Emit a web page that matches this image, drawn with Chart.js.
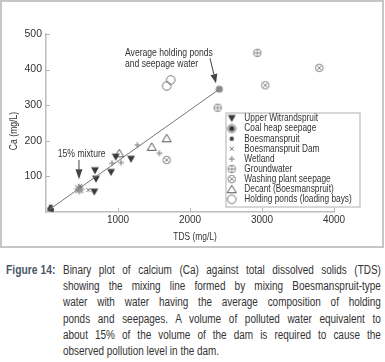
<!DOCTYPE html>
<html><head><meta charset="utf-8">
<script src="https://cdn.jsdelivr.net/npm/chart.js@4/dist/chart.umd.min.js"></script>
<style>
html,body{margin:0;padding:0;background:#fff;width:385px;height:362px;overflow:hidden}
#wrap{position:absolute;left:0;top:0;width:385px;height:250px}
#cap{position:absolute;left:0;top:262px;width:385px;font-family:'Liberation Sans',Arial,sans-serif;font-size:12px;line-height:16.2px;color:#333}
#cap .lab{position:absolute;left:6px;top:0;font-weight:bold;color:#4a5868;transform:scaleX(0.86);transform-origin:0 0;white-space:nowrap}
#cap .txt{position:absolute;left:63px;top:0;width:383px;transform:scaleX(0.83);transform-origin:0 0}
#cap .txt div{white-space:nowrap;text-align:justify;text-align-last:justify}
#cap .txt div.last{text-align:left;text-align-last:left}
</style></head>
<body>
<div id="wrap"><canvas id="c" width="385" height="250"></canvas></div>
<div id="cap"><span class="lab">Figure 14:</span><div class="txt">
<div>Binary plot of calcium (Ca) against total dissolved solids (TDS)</div>
<div>showing the mixing line formed by mixing Boesmanspruit-type</div>
<div>water with water having the average composition of holding</div>
<div>ponds and seepages. A volume of polluted water equivalent to</div>
<div>about 15% of the volume of the dam is required to cause the</div>
<div class="last">observed pollution level in the dam.</div>
</div></div>
<script>
const FONT = "'Liberation Sans', Arial, sans-serif";

// ---- data ----
const xTicks = [1000, 2000, 3000, 4000];
const yTicks = [100, 200, 300, 400, 500];
const seriesNames = ['Upper Witrandspruit','Coal heap seepage','Boesmanspruit','Boesmanspruit Dam','Wetland','Groundwater','Washing plant seepage','Decant (Boesmanspruit)','Holding ponds (loading bays)'];

const upperWitTDS = [680, 694, 671, 903, 968, 1181];
const upperWitCa  = [116, 92, 56, 111, 154, 148];
const coalTDS = [3227];
const coalCa  = [553];
const boesTDS = [65, 46, 83];
const boesCa  = [15, 8, 6];
const damTDS = [472, 588];
const damCa  = [73, 62];
const wetTDS = [917, 1042, 1268, 1574];
const wetCa  = [137, 139, 188, 165];
const groundTDS = [2935, 2384];
const groundCa  = [447, 293];
const washTDS = [3796, 3046, 1676];
const washCa  = [405, 356, 146];
const decantTDS = [1018, 1468, 1676];
const decantCa  = [165, 183, 207];
const holdTDS = [1676, 1732];
const holdCa  = [354, 371];
const avgTDS = [2407];
const avgCa  = [345];
const mixTDS = [463];
const mixCa  = [64];
const lineTDS = [55, 2407];
const lineCa  = [8, 345];
const annoAvgText = ['Average holding ponds', 'and seepage water'];
const annoMixText = '15% mixture';

// ---- symbols ----
function sym(size, draw){const c=document.createElement('canvas');c.width=size;c.height=size;const g=c.getContext('2d');g.translate(size/2,size/2);draw(g);return c;}
function circ(g,r){g.beginPath();g.arc(0,0,r,0,Math.PI*2);}
const S = {
  downTri: sym(10,g=>{g.fillStyle='#3a3a3a';g.beginPath();g.moveTo(-4,-3.5);g.lineTo(4,-3.5);g.lineTo(0,3.5);g.closePath();g.fill();}),
  coal: sym(12,g=>{g.fillStyle='#c4c4c4';circ(g,4.3);g.fill();g.strokeStyle='#888';g.lineWidth=0.8;g.stroke();g.fillStyle='#333';circ(g,2.5);g.fill();}),
  dot: sym(8,g=>{g.fillStyle='#444';circ(g,2.2);g.fill();}),
  xs: sym(8,g=>{g.strokeStyle='#777';g.lineWidth=1;g.beginPath();g.moveTo(-2,-2);g.lineTo(2,2);g.moveTo(2,-2);g.lineTo(-2,2);g.stroke();}),
  plus: sym(10,g=>{g.strokeStyle='#777';g.lineWidth=1;g.beginPath();g.moveTo(-3,0);g.lineTo(3,0);g.moveTo(0,-3);g.lineTo(0,3);g.stroke();}),
  ground: sym(12,g=>{g.strokeStyle='#888';g.lineWidth=1;circ(g,3.8);g.stroke();g.beginPath();g.moveTo(-3.8,0);g.lineTo(3.8,0);g.moveTo(0,-3.8);g.lineTo(0,3.8);g.stroke();}),
  wash: sym(12,g=>{g.strokeStyle='#888';g.lineWidth=1;circ(g,3.8);g.stroke();g.beginPath();g.moveTo(-2.7,-2.7);g.lineTo(2.7,2.7);g.moveTo(2.7,-2.7);g.lineTo(-2.7,2.7);g.stroke();}),
  upTri: sym(12,g=>{g.strokeStyle='#555';g.lineWidth=1;g.beginPath();g.moveTo(0,-4);g.lineTo(4.5,3.5);g.lineTo(-4.5,3.5);g.closePath();g.stroke();}),
  ring: sym(12,g=>{g.strokeStyle='#777';g.lineWidth=1;circ(g,4.3);g.stroke();}),
  avg: sym(10,g=>{g.fillStyle='#8a8a8a';circ(g,3.6);g.fill();}),
  mix: sym(14,g=>{g.fillStyle='#9a9a9a';circ(g,3.8);g.fill();g.strokeStyle='#9a9a9a';g.lineWidth=1.2;g.beginPath();for(let i=0;i<4;i++){const a=i*Math.PI/4;g.moveTo(-5.5*Math.cos(a),-5.5*Math.sin(a));g.lineTo(5.5*Math.cos(a),5.5*Math.sin(a));}g.stroke();})
};

function pts(xs, ys){return xs.map((x,i)=>({x, y: ys[i]}));}
function sc(label, xs, ys, style, inLegend){
  return {type:'scatter', label, data: pts(xs,ys), pointStyle: style, pointRadius: 5, pointHoverRadius: 5, clip: false, legendShow: inLegend};
}

const datasets = [
  {type:'line', label:'Mixing line', data: pts(lineTDS, lineCa), borderColor:'#777', borderWidth:1, pointRadius:0, fill:false, clip:false, legendShow:false},
  sc(seriesNames[0], upperWitTDS, upperWitCa, S.downTri, true),
  sc(seriesNames[1], coalTDS, coalCa, S.coal, true),
  sc(seriesNames[2], boesTDS, boesCa, S.dot, true),
  sc(seriesNames[3], damTDS, damCa, S.xs, true),
  sc(seriesNames[4], wetTDS, wetCa, S.plus, true),
  sc(seriesNames[5], groundTDS, groundCa, S.ground, true),
  sc(seriesNames[6], washTDS, washCa, S.wash, true),
  sc(seriesNames[7], decantTDS, decantCa, S.upTri, true),
  sc(seriesNames[8], holdTDS, holdCa, S.ring, true),
  sc('Average holding ponds and seepage water', avgTDS, avgCa, S.avg, false),
  sc('15% mixture', mixTDS, mixCa, S.mix, false)
];

function arrow(ctx, x1, y1, x2, y2, hl, hw){
  const a = Math.atan2(y2-y1, x2-x1);
  const bx = x2 - hl*Math.cos(a), by = y2 - hl*Math.sin(a);
  ctx.beginPath(); ctx.moveTo(x1,y1); ctx.lineTo(bx,by); ctx.stroke();
  ctx.beginPath(); ctx.moveTo(x2,y2);
  ctx.lineTo(bx + hw/2*Math.sin(a), by - hw/2*Math.cos(a));
  ctx.lineTo(bx - hw/2*Math.sin(a), by + hw/2*Math.cos(a));
  ctx.closePath(); ctx.fill();
}
// condensed text helper (compress horizontally to mimic a narrow face)
function ntext(ctx, s, x, y, size, align, sx, rot){
  ctx.save();
  ctx.font = size + 'px ' + FONT;
  ctx.translate(x, y);
  if (rot) ctx.rotate(rot);
  ctx.scale(sx, 1);
  ctx.textAlign = align; ctx.textBaseline = 'middle';
  ctx.fillText(s, 0, 0);
  ctx.restore();
}

const decor = {
  id:'decor',
  afterDraw(chart){
    const ctx = chart.ctx, xs = chart.scales.x, ys = chart.scales.y;
    ctx.save();
    // frame
    ctx.strokeStyle='#c6c6c6'; ctx.lineWidth=2; ctx.strokeRect(1,1,382,246);
    // inner ticks
    ctx.strokeStyle='#b5b5b5'; ctx.lineWidth=1;
    ctx.beginPath();
    xTicks.forEach(v=>{const p=Math.round(xs.getPixelForValue(v))+0.5; ctx.moveTo(p, ys.bottom); ctx.lineTo(p, ys.bottom-4);});
    yTicks.forEach(v=>{const p=Math.round(ys.getPixelForValue(v))+0.5; ctx.moveTo(xs.left, p); ctx.lineTo(xs.left+4, p);});
    ctx.stroke();
    // axis titles
    ctx.fillStyle='#333';
    ntext(ctx, 'TDS (mg/L)', 195, 237, 10.5, 'center', 0.8);
    ntext(ctx, 'Ca (mg/L)', 14, 131, 10.5, 'center', 0.82, -Math.PI/2);
    // annotation: average holding ponds
    const ax = xs.getPixelForValue(1097);
    ntext(ctx, annoAvgText[0], ax, ys.getPixelForValue(446), 10.5, 'left', 0.82);
    ntext(ctx, annoAvgText[1], ax, ys.getPixelForValue(415), 10.5, 'left', 0.82);
    ctx.strokeStyle='#444'; ctx.fillStyle='#444'; ctx.lineWidth=1;
    arrow(ctx, xs.getPixelForValue(2278), ys.getPixelForValue(432), xs.getPixelForValue(2361), ys.getPixelForValue(362), 9, 7);
    // annotation: 15% mixture
    ctx.fillStyle='#333';
    ntext(ctx, annoMixText, xs.getPixelForValue(496), ys.getPixelForValue(163), 10.5, 'center', 0.82);
    ctx.strokeStyle='#444'; ctx.fillStyle='#444';
    arrow(ctx, xs.getPixelForValue(458), ys.getPixelForValue(146), xs.getPixelForValue(458), ys.getPixelForValue(92), 10, 7);
    // legend
    const L=226, T=113, R=360, B=207;
    ctx.fillStyle='#fff'; ctx.fillRect(L,T,R-L,B-T);
    ctx.strokeStyle='#bdbdbd'; ctx.lineWidth=1.2; ctx.strokeRect(L,T,R-L,B-T);
    ctx.fillStyle='#333';
    let i=0;
    chart.data.datasets.forEach(ds=>{
      if(!ds.legendShow) return;
      const y = 118.5 + i*10.1;
      const img = ds.pointStyle;
      ctx.drawImage(img, 231.7 - img.width/2, y - img.height/2);
      ntext(ctx, ds.label, 244.3, y, 10.5, 'left', 0.79);
      i++;
    });
    ctx.restore();
  }
};

new Chart(document.getElementById('c'), {
  data: {datasets},
  options: {
    responsive:false, animation:false, devicePixelRatio:1,
    layout:{padding:{top:34, right:51, left:0, bottom:0}},
    plugins:{legend:{display:false}, tooltip:{enabled:false}},
    scales:{
      x:{type:'linear', min:0, max:4000,
        afterBuildTicks: s=>{ s.ticks = xTicks.map(v=>({value:v})); },
        afterFit: s=>{ s.height = 38; },
        grid:{display:false, drawTicks:false},
        border:{display:true, color:'#bdbdbd', width:1.5},
        ticks:{font:{family:FONT, size:10}, color:'#333', padding:2, maxRotation:0, callback: v => String(v)}
      },
      y:{type:'linear', min:0, max:500,
        afterBuildTicks: s=>{ s.ticks = yTicks.map(v=>({value:v})); },
        afterFit: s=>{ s.width = 46; },
        grid:{display:false, drawTicks:false},
        border:{display:true, color:'#bdbdbd', width:1.5},
        ticks:{font:{family:FONT, size:10.5}, color:'#333', padding:4, callback: v => String(v)}
      }
    }
  },
  plugins:[decor]
});
</script>
</body></html>
